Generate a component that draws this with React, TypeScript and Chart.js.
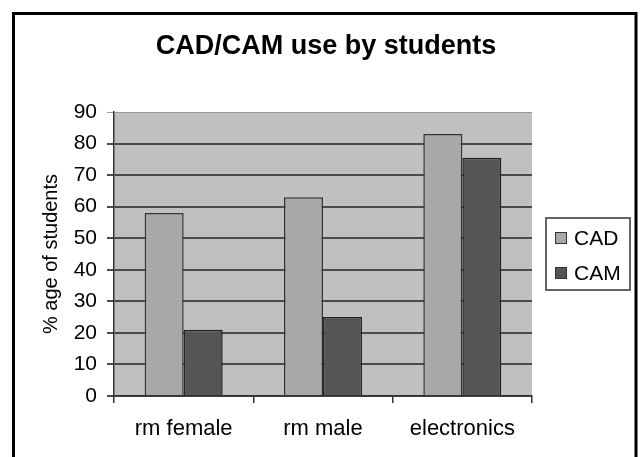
import React, { useEffect, useRef } from "react";
import { Chart, registerables } from "chart.js";

Chart.register(...registerables);

const categories = ["rm female", "rm male", "electronics"];
const cadValues = [58, 63, 83];
const camValues = [21, 25, 75.5];
const seriesNames = ["CAD", "CAM"];
const titleText = "CAD/CAM use by students";
const yAxisTitle = "% age of students";

const FONT = "'Liberation Sans', Arial, sans-serif";

const bgPlugin = {
  id: "plotBg",
  beforeDraw(chart: any) {
    const { ctx, chartArea } = chart;
    ctx.save();
    ctx.fillStyle = "#ffffff";
    ctx.fillRect(0, 0, chart.width, chart.height);
    ctx.fillStyle = "#c0c0c0";
    ctx.fillRect(chartArea.left, chartArea.top, chartArea.right - chartArea.left, chartArea.bottom - chartArea.top);
    ctx.restore();
  },
  afterDraw(chart: any) {
    const { ctx } = chart;
    ctx.save();
    // outer frame
    ctx.strokeStyle = "#000000";
    ctx.lineWidth = 3;
    ctx.strokeRect(13.5, 13.5, 622.5, 600);
    // title
    ctx.fillStyle = "#000000";
    ctx.font = `bold 27px ${FONT}`;
    ctx.textAlign = "center";
    ctx.textBaseline = "middle";
    ctx.fillText(titleText, 326, 47);
    // legend
    const lx = 546, ly = 218, lw = 84, lh = 72;
    ctx.fillStyle = "#ffffff";
    ctx.fillRect(lx, ly, lw, lh);
    ctx.strokeStyle = "#333333";
    ctx.lineWidth = 1.5;
    ctx.strokeRect(lx, ly, lw, lh);
    const ds = chart.data.datasets;
    const rows = [238, 273];
    ctx.font = `21px ${FONT}`;
    ctx.textBaseline = "middle";
    ctx.textAlign = "left";
    ds.forEach((d: any, i: number) => {
      const cy = rows[i];
      ctx.fillStyle = d.backgroundColor;
      ctx.fillRect(555, cy - 6, 12, 12);
      ctx.strokeStyle = "#333333";
      ctx.lineWidth = 1;
      ctx.strokeRect(555.5, cy - 5.5, 11, 11);
      ctx.fillStyle = "#000000";
      ctx.fillText(d.label, 574, cy + 1);
    });
    ctx.restore();
  },
};

export default function App() {
  const ref = useRef<HTMLCanvasElement>(null);
  useEffect(() => {
    if (!ref.current) return;
    const chart = new Chart(ref.current, {
      type: "bar",
      data: {
        labels: categories,
        datasets: [
          {
            label: seriesNames[0],
            data: cadValues,
            backgroundColor: "#a8a8a8",
            borderColor: "#333333",
            borderWidth: 1.5,
          },
          {
            label: seriesNames[1],
            data: camValues,
            backgroundColor: "#555555",
            borderColor: "#222222",
            borderWidth: 1.5,
          },
        ],
      },
      options: {
        animation: false,
        responsive: true,
        maintainAspectRatio: false,
        layout: { padding: { left: 0, right: 108, top: 0, bottom: 0 } },
        datasets: { bar: { categoryPercentage: 0.56, barPercentage: 1 } },
        plugins: {
          legend: { display: false },
          tooltip: { enabled: false },
          title: {
            display: true,
            text: titleText,
            color: "rgba(0,0,0,0)",
            font: { family: FONT, size: 25, weight: "bold" },
            padding: { top: 32, bottom: 50 },
          },
        },
        scales: {
          x: {
            afterFit(scale: any) {
              scale.height = 61;
            },
            grid: {
              offset: true,
              drawOnChartArea: false,
              drawTicks: true,
              tickLength: 7,
              color: "#333333",
              lineWidth: 1.5,
            },
            border: { display: true, color: "#333333", width: 1.5 },
            ticks: {
              color: "#000000",
              font: { family: FONT, size: 22 },
              padding: 13,
              maxRotation: 0,
            },
          },
          y: {
            min: 0,
            max: 90,
            afterFit(scale: any) {
              scale.width = 114;
            },
            grid: {
              drawTicks: true,
              tickLength: 7,
              color: (c: any) => (c.tick && c.tick.value === 90 ? "#9a9a9a" : "#4a4a4a"),
              lineWidth: (c: any) => (c.tick && c.tick.value === 90 ? 1 : 2),
            },
            border: { display: true, color: "#333333", width: 1.5 },
            ticks: {
              stepSize: 10,
              color: "#000000",
              font: { family: FONT, size: 21 },
              padding: 10,
            },
            title: {
              display: true,
              text: yAxisTitle,
              color: "#000000",
              font: { family: FONT, size: 20 },
              padding: { top: 39, bottom: 0 },
            },
          },
        },
      },
      plugins: [bgPlugin],
    });
    return () => chart.destroy();
  }, []);
  return (
    <div style={{ position: "absolute", left: 0, top: 0, width: 640, height: 457 }}>
      <canvas ref={ref} />
    </div>
  );
}
